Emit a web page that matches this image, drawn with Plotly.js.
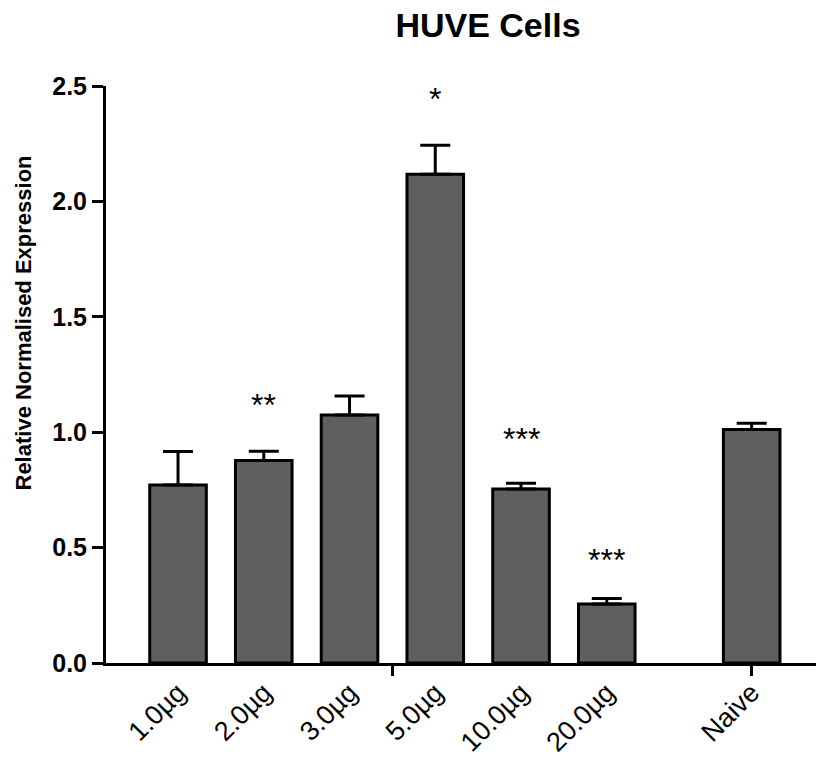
<!DOCTYPE html>
<html>
<head>
<meta charset="utf-8">
<script src="https://cdn.plot.ly/plotly-3.0.1.min.js"></script>
<style>html,body{margin:0;padding:0;background:#fff;}#chart{width:816px;height:761px;}</style>
</head>
<body>
<div id="chart"></div>
<script>
// Data
const categories = ["1.0µg", "2.0µg", "3.0µg", "5.0µg", "10.0µg", "20.0µg", "Naive"];
const meanValues = [0.771, 0.877, 1.075, 2.118, 0.754, 0.256, 1.012];
const semValues  = [0.145, 0.040, 0.082, 0.125, 0.025, 0.023, 0.027];
const significance = ["", "**", "", "*", "***", "***", ""];
const significanceY = [null, 1.136, null, 2.461, 0.988, 0.464, null];
const yTickVals = [0.0, 0.5, 1.0, 1.5, 2.0, 2.5];
const yTickText = ["0.0", "0.5", "1.0", "1.5", "2.0", "2.5"];

// Layout: treated groups are contiguous, Naive is set apart
const naiveGap = 0.69;
const xPos = categories.map((c, i) => i < categories.length - 1 ? i : i + naiveGap);
const separatorTick = 2.5;

const font = "Liberation Sans, Arial, Helvetica, sans-serif";

const bars = {
  type: "bar",
  x: xPos,
  y: meanValues,
  width: 0.66,
  marker: {color: "#5f5f5f", line: {color: "#000", width: 3}},
  error_y: {type: "data", symmetric: false, array: semValues,
            arrayminus: semValues.map(() => 0), color: "#000", thickness: 3, width: 15},
  hoverinfo: "x+y",
  showlegend: false
};
const tickHolder = {
  type: "scatter", mode: "markers", x: [separatorTick, xPos[xPos.length - 1]], y: [0, 0],
  xaxis: "x2", yaxis: "y", marker: {opacity: 0}, hoverinfo: "skip", showlegend: false
};

const annotations = [];
significance.forEach((s, i) => {
  if (!s) return;
  annotations.push({
    x: xPos[i], y: significanceY[i], xref: "x", yref: "y",
    text: s, showarrow: false, yanchor: "middle", yshift: -4,
    font: {family: font, size: 32, color: "#000"}
  });
});
annotations.push({
  x: (23 - 106) / (816 - 106), y: (663 - 323.5) / (663 - 86), xref: "paper", yref: "paper",
  text: "Relative Normalised Expression",
  showarrow: false, textangle: -90, xanchor: "center", yanchor: "middle",
  font: {family: font, size: 22, color: "#000", weight: "bold"}
});

const xRange = [-0.84, 7.44];
const layout = {
  width: 816, height: 761,
  margin: {l: 106, r: 0, t: 86, b: 98, pad: 0},
  paper_bgcolor: "#fff", plot_bgcolor: "#fff",
  title: {text: "<b>HUVE Cells</b>", font: {family: font, size: 34, color: "#000"},
          x: 439 / 816, xref: "paper", xanchor: "center", y: 1 - 25 / 761, yref: "container", yanchor: "middle"},
  xaxis: {
    range: xRange, tickvals: xPos, ticktext: categories, ticks: "", tickangle: -45,
    showline: true, linecolor: "#000", linewidth: 3, showgrid: false, zeroline: false,
    tickfont: {family: font, size: 27, color: "#000"}, fixedrange: true
  },
  xaxis2: {
    overlaying: "x", anchor: "y", side: "bottom", range: xRange,
    tickvals: [separatorTick, xPos[xPos.length - 1]], ticks: "outside", ticklen: 12, tickwidth: 3,
    tickcolor: "#000", showticklabels: false, showline: false, showgrid: false, zeroline: false
  },
  yaxis: {
    range: [0, 2.5], tickvals: yTickVals, ticktext: yTickText, ticks: "outside", ticklen: 11,
    tickwidth: 3, tickcolor: "#000", showline: true, linecolor: "#000", linewidth: 3,
    showgrid: false, zeroline: false,
    tickfont: {family: font, size: 25, color: "#000", weight: "bold"}
  },
  annotations: annotations,
  bargap: 0.3
};

Plotly.newPlot("chart", [bars, tickHolder], layout, {displayModeBar: false, staticPlot: true});
</script>
</body>
</html>
